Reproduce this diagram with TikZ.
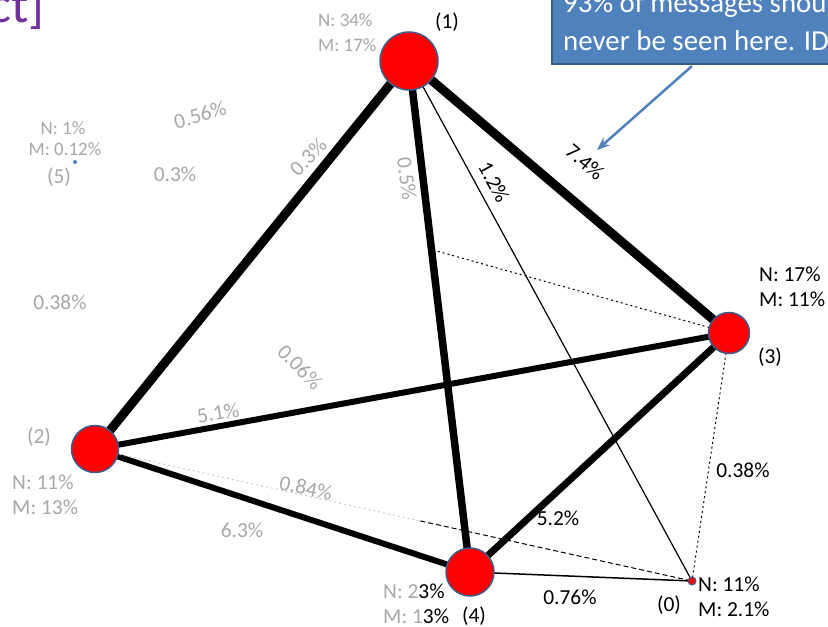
\documentclass[tikz,border=0pt]{standalone}
\usepackage{fontspec}
\setmainfont{Carlito}
\usetikzlibrary{backgrounds,arrows.meta,calc}
\definecolor{nodered}{HTML}{FF0000}
\definecolor{rim}{HTML}{3B5E8C}
\definecolor{calloutblue}{HTML}{4F81BD}
\definecolor{calloutrim}{HTML}{385D8A}
\definecolor{titlepurple}{HTML}{7030A0}
\definecolor{faint}{gray}{0.66}
\begin{document}
\begin{tikzpicture}[x=1bp,y=-1bp,
  vertex/.style={circle,fill=nodered,draw=rim,line width=1.5bp,inner sep=0,minimum size=#1},
  lab/.style={font=\fontsize{21.5}{25}\selectfont,inner sep=0},
  fade/.style={lab,text=faint},
  dotline/.style={line width=1bp,dash pattern=on 2bp off 3bp},
  dashline/.style={line width=1bp,dash pattern=on 5bp off 3bp},
  calltext/.style={font=\fontsize{29}{34}\selectfont,text=white,inner sep=0,anchor=base west}
]
\clip (0,0) rectangle (828,627);

% nodes
\node[vertex=58bp] (n1) at (409,61) {};
\node[vertex=41bp] (n3) at (729,333) {};
\node[vertex=47bp] (n2) at (95,449) {};
\node[vertex=48bp] (n4) at (470,572) {};
\node[circle,fill=nodered,draw=rim,line width=1bp,inner sep=0,minimum size=8bp] (n0) at (692,581) {};
\node[circle,fill=calloutblue,inner sep=0,minimum size=4bp] (n5) at (75,162) {};

% edges
\begin{scope}[on background layer]
  \fill[white] (0,0) rectangle (828,627);
  \draw[line width=9bp] (n1.center) -- (n2.center);
  \draw[line width=9bp] (n1.center) -- (n3.center);
  \draw[line width=7.5bp] (n1.center) -- (n4.center);
  \draw[line width=6bp] (n2.center) -- (n3.center);
  \draw[line width=6bp] (n2.center) -- (n4.center);
  \draw[line width=7bp] (n3.center) -- (n4.center);
  \draw[line width=1.2bp] (n1.center) -- (n0.center);
  \draw[line width=1.5bp] (n4.center) -- (n0.center);
  \draw[dotline] (n3.center) -- (n0.center);
  \coordinate (c53) at (433,250);
  \draw[dotline] (c53) -- (n3.center);
  \coordinate (c20) at ($(n2)!0.545!(n0)$);
  \draw[dotline,faint!60] (n2.center) -- (c20);
  \draw[dashline] (c20) -- (n0.center);
\end{scope}

% callout
\node[fill=calloutblue,draw=calloutrim,line width=1.5bp,anchor=south west,
      minimum width=300bp,minimum height=90bp,inner sep=0] (callout) at (551,65) {};
\node[calltext] (ct1) at (563,13) {93\% of messages shou};
\node[calltext] (ct2) at (563,51) {never be seen here. ID};
\coordinate (arrowtail) at (692,66);
\coordinate (arrowhead) at (597,150);
\draw[calloutblue,line width=2.5bp,-{Stealth[length=13bp,width=10bp]}] (arrowtail) -- (arrowhead);

% title fragment
\node[anchor=base east,text=titlepurple,font=\fontsize{52}{58}\selectfont,inner sep=0] (title) at (45,23) {ct]};

% dark labels
\node[lab] (l1) at (447,22) {(1)};
\node[lab,rotate=-40] (e13) at (585,162) {7.4\%};
\node[lab,rotate=-62] (e10) at (494,182) {1.2\%};
\node[lab,anchor=west,align=left] (i3) at (759,287) {N: 17\%\\M: 11\%};
\node[lab] (l3) at (770,357) {(3)};
\node[lab] (e30) at (743,470) {0.38\%};
\node[lab] (e34) at (558,518) {5.2\%};
\node[lab] (e40) at (570,597) {0.76\%};
\node[lab] (l0) at (669,605) {(0)};
\node[lab,anchor=west,align=left] (i0) at (698,597) {N: 11\%\\M: 2.1\%};
\node[lab] (l4) at (474,616) {(4)};
\node[lab,anchor=west] (i4a) at (383,591) {\textcolor{faint}{N: 2}3\%};
\node[lab,anchor=west] (i4b) at (383,616) {\textcolor{faint}{M: 1}3\%};

% faint labels
\node[fade,anchor=west,align=left,font=\fontsize{19}{25}\selectfont] (i1) at (318,33) {N: 34\%\\M: 17\%};
\node[fade,font=\fontsize{19}{23}\selectfont] (i5a) at (63,128) {N: 1\%};
\node[fade,font=\fontsize{19}{23}\selectfont] (i5b) at (65,149) {M: 0.12\%};
\node[fade] (l5) at (59,177) {(5)};
\node[fade,rotate=16] (f1) at (200,115) {0.56\%};
\node[fade] (f2) at (175,174) {0.3\%};
\node[fade,rotate=45] (e12) at (308,157) {0.3\%};
\node[fade,rotate=-82] (e14) at (407,179) {0.5\%};
\node[fade] (f3) at (60,302) {0.38\%};
\node[fade,rotate=-45] (f4) at (300,367) {0.06\%};
\node[fade,rotate=10] (e23) at (218,413) {5.1\%};
\node[fade] (l2) at (39,437) {(2)};
\node[fade,anchor=west,align=left] (i2) at (12,495) {N: 11\%\\M: 13\%};
\node[fade,rotate=-12] (e20) at (306,488) {0.84\%};
\node[fade] (e24) at (242,530) {6.3\%};
\end{tikzpicture}
\end{document}
